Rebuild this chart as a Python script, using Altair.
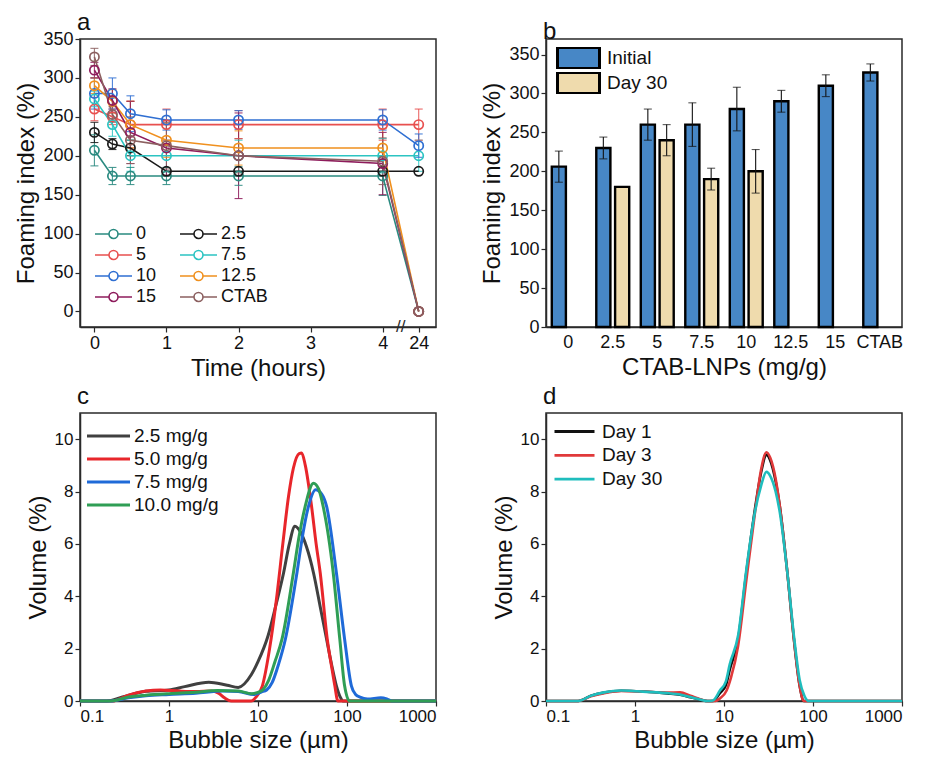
import altair as alt
import pandas as pd

FONT = "Liberation Sans"
INK = "#2a2a2a"
W, H = 356, 288

# ---------------- panel a : foaming index vs time ----------------
a_time_pos = [0, 0.25, 0.5, 1, 2, 4, 4.5]          # 4.5 = broken-axis slot for 24 h
a_tick_pos = [0, 1, 2, 3, 4, 4.5]
a_break_pos = [4.25]
a_series = ["0", "2.5", "5", "7.5", "10", "12.5", "15", "CTAB"]
a_colors = ["#2a8a80", "#1a1a1a", "#e8504f", "#2cc4c2", "#2f6fd2", "#f0901e", "#8e1c5c", "#8c6060"]
a_legend_order = ["0", "5", "10", "15", "2.5", "7.5", "12.5", "CTAB"]
a_v0 = [207, 174, 174, 174, 174, 174, 0]
a_v2p5 = [230, 215, 210, 180, 180, 180, 180]
a_v5 = [260, 250, 240, 240, 240, 240, 240]
a_v7p5 = [273, 240, 200, 200, 200, 200, 200]
a_v10 = [280, 280, 254, 246, 246, 246, 213]
a_v12p5 = [290, 270, 240, 220, 210, 210, 0]
a_v15 = [310, 271, 230, 210, 200, 190, 0]
a_vctab = [327, 253, 220, 213, 200, 193, 0]
a_e0 = [20, 11, 11, 11, 12, 25, 0]
a_e2p5 = [13, 7, 10, 0, 0, 0, 0]
a_e5 = [15, 10, 30, 20, 18, 20, 20]
a_e7p5 = [10, 15, 20, 20, 20, 22, 20]
a_e10 = [20, 20, 23, 13, 12, 13, 15]
a_e12p5 = [10, 15, 30, 22, 22, 25, 0]
a_e15 = [10, 15, 40, 35, 55, 40, 0]
a_ectab = [11, 10, 30, 30, 22, 30, 0]

# ---------------- panel b : initial vs day 30 ----------------
b_cats = ["0", "2.5", "5", "7.5", "10", "12.5", "15", "CTAB"]
b_series = ["Initial", "Day 30"]
b_colors = ["#4787c6", "#efdbad"]
b_initial = [206, 230, 260, 260, 280, 290, 310, 327]
b_initial_err = [20, 14, 20, 28, 28, 14, 14, 11]
b_day30 = [None, 180, 240, 190, 200, None, None, None]
b_day30_err = [None, 0, 20, 14, 28, None, None, None]

# ---------------- panel c : bubble size by concentration ----------------
c_series = ["2.5 mg/g", "5.0 mg/g", "7.5 mg/g", "10.0 mg/g"]
c_colors = ["#404040", "#e8262b", "#1f6ad8", "#2f9e55"]
c_25_x = [0.1, 0.2, 0.3, 0.55, 1.0, 1.5, 2.8, 4.5, 6.0, 8.4, 10, 13, 16, 19.4, 22.5, 26, 30, 35, 42, 50, 59, 68, 76, 84, 90, 1000]
c_25_y = [0, 0, 0.15, 0.37, 0.42, 0.55, 0.72, 0.6, 0.52, 1.0, 1.5, 2.5, 3.7, 4.9, 6.0, 6.67, 6.45, 5.9, 4.9, 3.6, 2.36, 1.3, 0.58, 0.15, 0, 0]
c_50_x = [0.1, 0.23, 0.35, 0.55, 0.8, 1.3, 2.0, 3.0, 3.6, 4.2, 5.0, 8.4, 9.5, 11.2, 13.5, 16, 19, 22, 25, 29, 31, 34, 40, 45, 50, 60, 68, 73, 79, 1000]
c_50_y = [0, 0, 0.22, 0.38, 0.42, 0.38, 0.36, 0.38, 0.3, 0.12, 0, 0, 0.15, 0.58, 2.0, 3.8, 6.0, 7.8, 8.9, 9.45, 9.47, 9.0, 7.43, 6.0, 4.9, 2.36, 1.2, 0.58, 0, 0]
c_75_x = [0.1, 0.22, 0.35, 0.55, 1, 2, 4, 6, 9, 11, 12.5, 14.4, 17, 20.3, 27.4, 32, 36.9, 44.5, 52, 59, 76, 94, 112, 125, 140, 170, 240, 280, 320, 1000]
c_75_y = [0, 0, 0.12, 0.2, 0.25, 0.3, 0.38, 0.36, 0.25, 0.35, 0.42, 0.7, 1.4, 2.36, 4.9, 6.4, 7.43, 8.07, 7.9, 7.43, 4.9, 2.36, 0.58, 0.25, 0.15, 0.08, 0.12, 0.08, 0, 0]
c_100_x = [0.1, 0.22, 0.35, 0.55, 1, 2, 3.5, 6, 8.5, 10, 11.5, 13.2, 15.5, 18.6, 25, 29, 33.9, 42, 48, 54, 70, 83, 94, 107, 1000]
c_100_y = [0, 0, 0.15, 0.22, 0.28, 0.33, 0.4, 0.38, 0.28, 0.33, 0.45, 0.8, 1.5, 2.36, 4.9, 6.3, 7.43, 8.32, 8.1, 7.43, 4.9, 2.36, 0.58, 0, 0]

# ---------------- panel d : bubble size over time ----------------
d_series = ["Day 1", "Day 3", "Day 30"]
d_colors = ["#111111", "#e0393a", "#1fbdbd"]
d_1_x = [0.1, 0.23, 0.32, 0.45, 0.7, 1.07, 2.3, 3.2, 4.2, 5.5, 6.5, 7.5, 9, 10.5, 11.6, 14.4, 17.8, 22.5, 26, 30, 33, 38, 42.4, 51.5, 61, 70.8, 79, 1000]
d_1_y = [0, 0, 0.2, 0.32, 0.39, 0.37, 0.29, 0.24, 0.14, 0.05, 0, 0, 0.3, 0.6, 1.2, 2.36, 4.9, 7.43, 8.7, 9.4, 9.2, 8.4, 7.43, 4.9, 2.36, 0.58, 0, 0]
d_3_x = [0.1, 0.23, 0.32, 0.45, 0.7, 1.07, 2.3, 3.2, 4.2, 5.5, 6.5, 8.0, 9, 10.7, 12, 14.4, 17.8, 22.5, 26, 30, 33, 38, 42.4, 51.5, 61, 70.8, 79, 1000]
d_3_y = [0, 0, 0.18, 0.3, 0.38, 0.37, 0.32, 0.33, 0.2, 0.06, 0, 0, 0.1, 0.4, 0.9, 2.1, 4.6, 7.3, 8.8, 9.5, 9.3, 8.5, 7.43, 4.9, 2.36, 0.58, 0, 0]
d_30_x = [0.1, 0.23, 0.32, 0.45, 0.7, 1.07, 2.3, 3.2, 4.2, 5.5, 6.5, 7.5, 9, 10.5, 11.6, 14.4, 17.8, 22.5, 26, 30, 33, 38, 42.4, 51.5, 61, 70.8, 80, 89, 1000]
d_30_y = [0, 0, 0.2, 0.33, 0.4, 0.37, 0.3, 0.25, 0.15, 0.05, 0, 0.02, 0.4, 0.75, 1.4, 2.5, 5.0, 7.3, 8.2, 8.75, 8.6, 8.0, 7.2, 4.9, 2.5, 0.8, 0.2, 0, 0]

# ---------------- tables ----------------
a_values = [a_v0, a_v2p5, a_v5, a_v7p5, a_v10, a_v12p5, a_v15, a_vctab]
a_errors = [a_e0, a_e2p5, a_e5, a_e7p5, a_e10, a_e12p5, a_e15, a_ectab]
rows = []
for name, vals, errs in zip(a_series, a_values, a_errors):
    for p, v, e in zip(a_time_pos, vals, errs):
        rows.append({"sa": name, "pos": p, "val": v, "lo": v - e, "hi": v + e, "err": e})
df_a = pd.DataFrame(rows)
df_a_err = df_a[df_a["err"] > 0]
df_brk = pd.DataFrame({"pos": a_break_pos, "val": [-20] * len(a_break_pos)})

rows = []
for c, v, e in zip(b_cats, b_initial, b_initial_err):
    rows.append({"cat": c, "sb": "Initial", "val": v, "lo": v - e, "hi": v + e, "err": e})
for c, v, e in zip(b_cats, b_day30, b_day30_err):
    if v is not None:
        rows.append({"cat": c, "sb": "Day 30", "val": v, "lo": v - e, "hi": v + e, "err": e})
df_b = pd.DataFrame(rows)
df_b_err = df_b[df_b["err"] > 0]

rows = []
for name, xs, ys in zip(c_series, [c_25_x, c_50_x, c_75_x, c_100_x], [c_25_y, c_50_y, c_75_y, c_100_y]):
    for i, (x, y) in enumerate(zip(xs, ys)):
        rows.append({"sc": name, "size": x, "vol": y, "i": i})
df_c = pd.DataFrame(rows)

rows = []
for name, xs, ys in zip(d_series, [d_1_x, d_3_x, d_30_x], [d_1_y, d_3_y, d_30_y]):
    for i, (x, y) in enumerate(zip(xs, ys)):
        rows.append({"sd": name, "size": x, "vol": y, "i": i})
df_d = pd.DataFrame(rows)


def ptitle(t, off):
    return alt.TitleParams(t, anchor="start", frame="group", fontSize=24, fontWeight="normal",
                           font=FONT, color="#111", offset=off, dx=-3)


# ---------------- panel a chart ----------------
sc_ax = alt.Scale(domain=[-0.2, 4.74], nice=False, zero=False)
sc_ay = alt.Scale(domain=[-20, 350], nice=False, zero=False)
a_col_map = dict(zip(a_series, a_colors))
col_a = alt.Scale(domain=a_legend_order, range=[a_col_map[s] for s in a_legend_order])
xa = alt.X("pos:Q", scale=sc_ax,
           axis=alt.Axis(values=a_tick_pos, labelExpr="datum.value == 4.5 ? '24' : datum.label",
                         title="Time (hours)", labelFontSize=18))
ya_axis = alt.Axis(values=list(range(0, 351, 50)), title="Foaming index (%)", labelFontSize=18)
ya = alt.Y("val:Q", scale=sc_ay, axis=ya_axis)
leg_a = alt.Legend(title=None, orient="none", legendX=14, legendY=184, columns=2,
                   columnPadding=19, rowPadding=1,
                   symbolType="M-1,0H0.4M1.3,0A0.45,0.45,0,1,1,0.4,0A0.45,0.45,0,1,1,1.3,0M1.3,0H2.7",
                   symbolSize=400, symbolStrokeWidth=1.6, symbolFillColor="transparent",
                   labelFontSize=18, labelOffset=20, labelFont=FONT, labelColor="#111")

rule_a = alt.Chart(df_a_err).mark_rule(strokeWidth=1.1, opacity=0.85).encode(
    x=xa, y=alt.Y("lo:Q", scale=sc_ay, axis=ya_axis), y2="hi:Q",
    stroke=alt.Stroke("sa:N", scale=col_a, legend=None))
caph_a = alt.Chart(df_a_err).mark_tick(orient="horizontal", size=8, thickness=1.1, opacity=0.85).encode(
    x=xa, y=alt.Y("hi:Q", scale=sc_ay, axis=ya_axis),
    fill=alt.Fill("sa:N", scale=col_a, legend=None))
capl_a = alt.Chart(df_a_err).mark_tick(orient="horizontal", size=8, thickness=1.1, opacity=0.85).encode(
    x=xa, y=alt.Y("lo:Q", scale=sc_ay, axis=ya_axis),
    fill=alt.Fill("sa:N", scale=col_a, legend=None))
line_a = alt.Chart(df_a).mark_line(strokeWidth=1.6).encode(
    x=xa, y=ya, stroke=alt.Stroke("sa:N", scale=col_a, legend=None))
pts_a = alt.Chart(df_a).mark_point(filled=False, size=85, strokeWidth=1.7, opacity=1).encode(
    x=xa, y=ya, color=alt.Color("sa:N", scale=col_a, legend=leg_a))
brk_a = alt.Chart(df_brk).mark_text(text="//", fontSize=17, font=FONT, color=INK).encode(x=xa, y=ya)
pa = alt.layer(rule_a, caph_a, capl_a, line_a, pts_a, brk_a).properties(
    width=W, height=H, title=ptitle("a", -5))

# ---------------- panel b chart ----------------
xb = alt.X("cat:N", sort=b_cats, scale=alt.Scale(domain=b_cats, paddingInner=0.26, paddingOuter=0.13),
           axis=alt.Axis(title="CTAB-LNPs (mg/g)", labelAngle=0, ticks=False, labelFontSize=18,
                         labelPadding=6))
xob = alt.XOffset("sb:N", scale=alt.Scale(domain=b_series, paddingInner=0.25))
sc_by = alt.Scale(domain=[0, 370], nice=False, zero=True)
yb_axis = alt.Axis(values=list(range(0, 351, 50)), title="Foaming index (%)", labelFontSize=18)
leg_b = alt.Legend(title=None, orient="none", legendX=10, legendY=8, rowPadding=3, clipHeight=22,
                   symbolType="M-1,-1.31H4.25V1.31H-1Z", symbolSize=256, symbolStrokeColor="black",
                   symbolStrokeWidth=3, symbolOpacity=1, labelFontSize=19, labelOffset=32,
                   labelFont=FONT, labelColor="#111")
bars_b = alt.Chart(df_b).mark_bar(stroke="black", strokeWidth=2.4, opacity=1).encode(
    x=xb, xOffset=xob, y=alt.Y("val:Q", scale=sc_by, axis=yb_axis),
    color=alt.Color("sb:N", scale=alt.Scale(domain=b_series, range=b_colors), legend=leg_b))
rule_b = alt.Chart(df_b_err).mark_rule(color="#111", strokeWidth=1.1).encode(
    x=xb, xOffset=xob, y=alt.Y("lo:Q", scale=sc_by, axis=yb_axis), y2="hi:Q")
caph_b = alt.Chart(df_b_err).mark_tick(color="#111", thickness=1.1, size=8).encode(
    x=xb, xOffset=xob, y=alt.Y("hi:Q", scale=sc_by, axis=yb_axis))
capl_b = alt.Chart(df_b_err).mark_tick(color="#111", thickness=1.1, size=8).encode(
    x=xb, xOffset=xob, y=alt.Y("lo:Q", scale=sc_by, axis=yb_axis))
pb = alt.layer(bars_b, rule_b, caph_b, capl_b).properties(width=W, height=H, title=ptitle("b", -5))

# ---------------- panels c / d ----------------
sc_lx = alt.Scale(type="log", domain=[0.1, 1000], nice=False)
sc_ly = alt.Scale(domain=[0, 11], nice=False, zero=True)
x_log = alt.X("size:Q", scale=sc_lx,
              axis=alt.Axis(values=[0.1, 1, 10, 100, 1000], format="~g", title="Bubble size (µm)"))
y_vol = alt.Y("vol:Q", scale=sc_ly, axis=alt.Axis(values=[0, 2, 4, 6, 8, 10], title="Volume (%)"))

leg_c = alt.Legend(title=None, orient="none", legendX=5, legendY=11, rowPadding=1,
                   symbolType="M-1,0H3.3", symbolSize=400, symbolStrokeWidth=3.2,
                   labelFontSize=19, labelOffset=25, labelFont=FONT, labelColor="#111")
pc = alt.Chart(df_c).mark_line(strokeWidth=3, interpolate="monotone").encode(
    x=x_log, y=y_vol, order="i:Q",
    color=alt.Color("sc:N", sort=c_series, scale=alt.Scale(domain=c_series, range=c_colors), legend=leg_c)
).properties(width=W, height=H, title=ptitle("c", 4))

leg_d = alt.Legend(title=None, orient="none", legendX=7, legendY=7, rowPadding=1.8,
                   symbolType="M-1,0H3", symbolSize=400, symbolStrokeWidth=2.8,
                   labelFontSize=19, labelOffset=26, labelFont=FONT, labelColor="#111")
pd_chart = alt.Chart(df_d).mark_line(strokeWidth=2.6, interpolate="monotone").encode(
    x=x_log, y=y_vol, order="i:Q",
    color=alt.Color("sd:N", sort=d_series, scale=alt.Scale(domain=d_series, range=d_colors), legend=leg_d)
).properties(width=W, height=H, title=ptitle("d", 4))

chart = alt.concat(pa, pb, pc, pd_chart, columns=2,
                   spacing=alt.RowColnumber(row=86, column=110), bounds="flush").resolve_scale(
    x="independent", y="independent", color="independent"
).properties(
    padding={"left": 6, "top": 2, "right": 0, "bottom": 0}
).configure(font=FONT).configure_view(
    stroke=INK, strokeWidth=1.5
).configure_axis(
    labelFontSize=17, titleFontSize=24, titleFontWeight="normal", labelColor="#111", titleColor="#111",
    tickColor=INK, domainColor=INK, domainWidth=1.5, tickWidth=1.2, tickSize=5, grid=False,
    labelPadding=2, titlePadding=4, labelFont=FONT, titleFont=FONT
)

chart.save("out.html", embed_options={"renderer": "svg", "actions": False})
